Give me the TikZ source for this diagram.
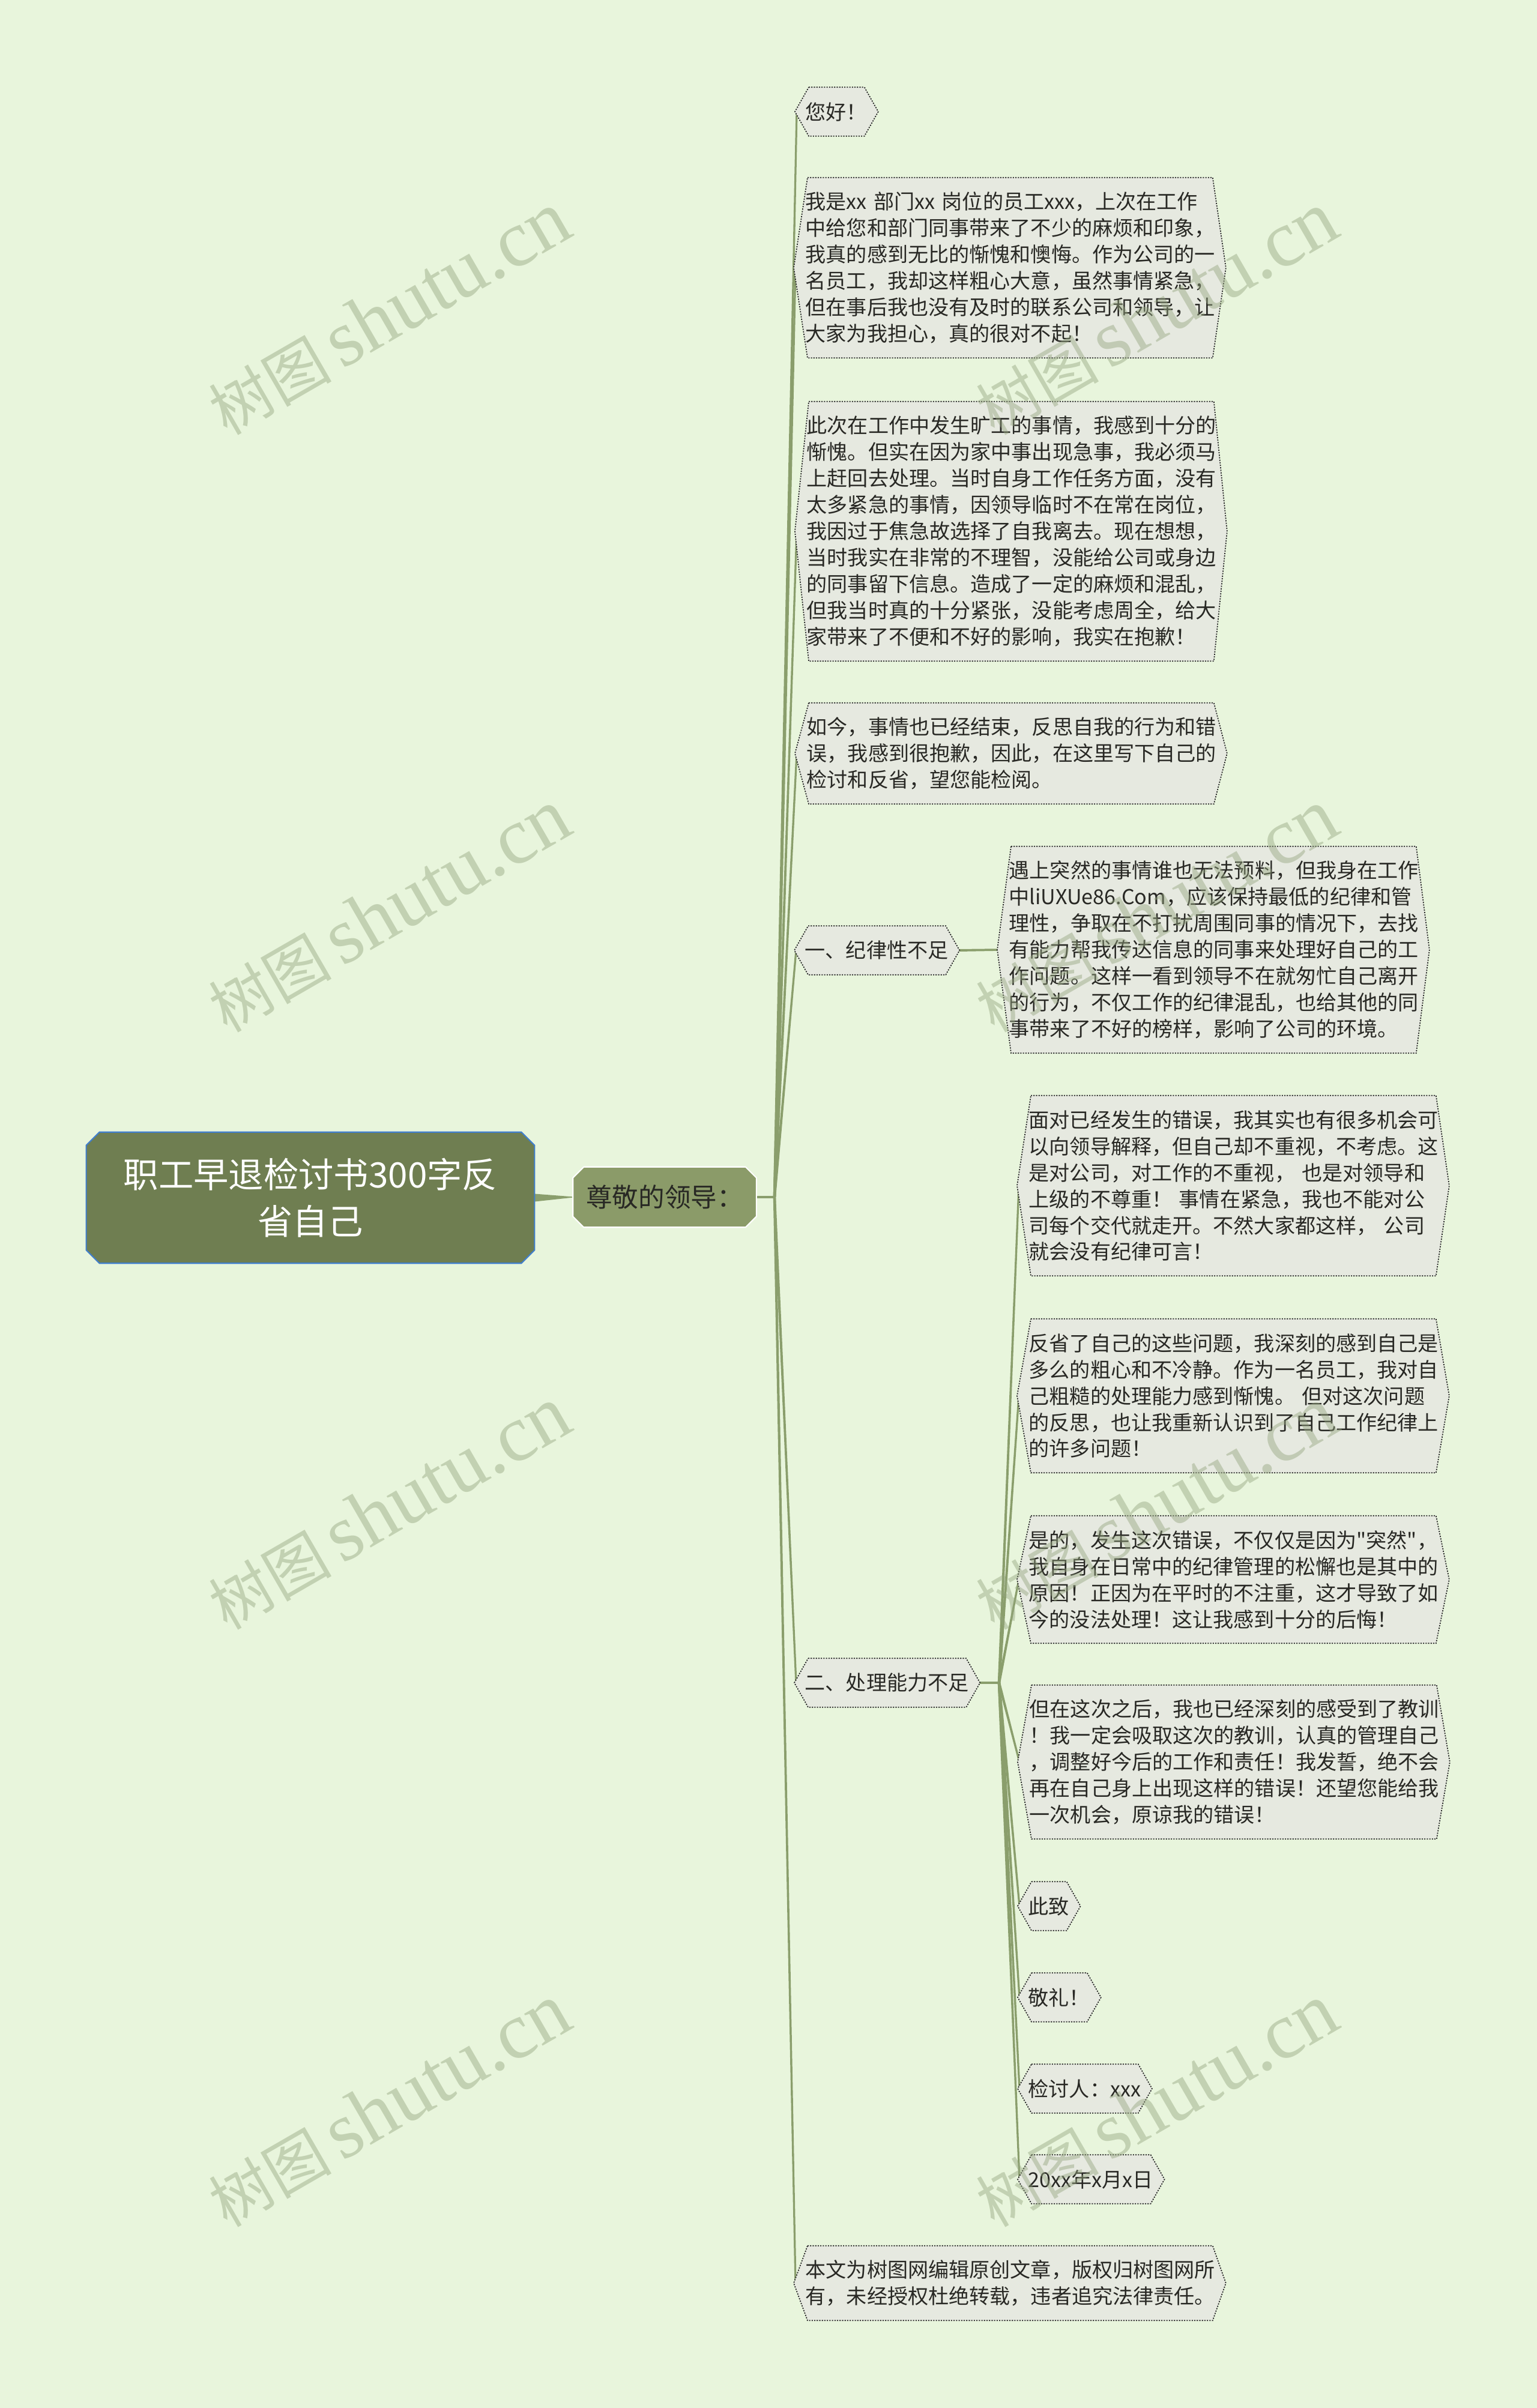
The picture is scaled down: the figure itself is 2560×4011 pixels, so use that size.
\documentclass[tikz,border=0pt]{standalone}
\usepackage{fontspec}
\setmainfont{Noto Sans CJK SC}
\newfontfamily\qfont{Noto Sans CJK SC}[Ligatures=TeXOff]
\newfontfamily\wmcjk{Noto Sans CJK SC}
\newfontfamily\wmlatin{Liberation Serif}
\usetikzlibrary{calc}
\pgfdeclarelayer{bgl}
\pgfdeclarelayer{edges}
\pgfdeclarelayer{shapes}
\pgfdeclarelayer{wm}
\pgfsetlayers{bgl,edges,shapes,main,wm}
\definecolor{bgc}{RGB}{232,245,220}
\definecolor{boxc}{RGB}{230,233,224}
\definecolor{linec}{RGB}{138,158,108}
\definecolor{rootc}{RGB}{111,126,81}
\definecolor{rootb}{RGB}{64,126,204}
\definecolor{subc}{RGB}{139,155,105}
\definecolor{txtc}{RGB}{40,40,36}
\definecolor{dotc}{RGB}{40,40,40}
\definecolor{wmc}{RGB}{149,166,127}
\tikzset{
 txt/.style={inner sep=0pt, font=\fontsize{9.7pt}{12.5pt}\selectfont, text=txtc, align=left, anchor=west},
 widebox/.style={txt, text width=6.9cm},
 hexfill/.style={fill=boxc, draw=dotc, line width=0.5pt, dash pattern=on 0.6pt off 0.6pt},
 wmark/.style={rotate=30, text=wmc, text opacity=0.45, inner sep=0pt},
 stub/.style={draw=linec, line width=0.04cm},
}
\newcommand\hexwide[1]{\path[hexfill] ([xshift=0.04cm]#1.north west) -- ([xshift=-0.13cm]#1.north east) -- ([xshift=0.09cm]#1.east) -- ([xshift=-0.13cm]#1.south east) -- ([xshift=0.04cm]#1.south west) -- ([xshift=-0.19cm]#1.west) -- cycle;}
\newcommand\hexshort[1]{\path[hexfill] ([xshift=0.06cm]#1.north west) -- ([xshift=-0.05cm]#1.north east) -- ([xshift=0.18cm]#1.east) -- ([xshift=-0.05cm]#1.south east) -- ([xshift=0.06cm]#1.south west) -- ([xshift=-0.17cm]#1.west) -- cycle;}
\newcommand\octbox[3]{\path[#3] ([xshift=#2]#1.north west) -- ([xshift=-#2]#1.north east) -- ([yshift=-#2]#1.north east) -- ([yshift=#2]#1.south east) -- ([xshift=-#2]#1.south east) -- ([xshift=#2]#1.south west) -- ([yshift=#2]#1.south west) -- ([yshift=-#2]#1.north west) -- cycle;}
\newcommand\taper[4]{\fill[linec] ($(#1)!#3!90:(#2)$) -- ($(#2)!#4!-90:(#1)$) -- ($(#2)!#4!90:(#1)$) -- ($(#1)!#3!-90:(#2)$) -- cycle;}
\newcommand\wmtext{{\wmcjk\fontsize{29pt}{29pt}\selectfont 树图}\hspace{0.5em}{\wmlatin\fontsize{38pt}{38pt}\selectfont shutu.cn}}
\begin{document}
\begin{tikzpicture}[x=0.01cm,y=-0.01cm]
\useasboundingbox (0,0) rectangle (2560,4011);
\begin{pgfonlayer}{bgl}\fill[bgc] (0,0) rectangle (2560,4011);\end{pgfonlayer}

% root and main branch
\node[inner sep=0pt, minimum width=7.45cm, minimum height=2.17cm, text=white, align=center, font=\fontsize{16.6pt}{22.4pt}\selectfont] (root) at (517,1995) {职工早退检讨书300字反\\省自己};
\node[inner sep=0pt, minimum width=3.04cm, minimum height=0.99cm, text=txtc, font=\fontsize{12.4pt}{14pt}\selectfont] (zj) at (1107,1994) {尊敬的领导：};

% first-level children
\node[txt, minimum height=0.8cm] (nh) at (1341,186) {您好！};
\node[widebox, minimum height=2.99cm] (wo) at (1341,446) {我是xx 部门xx 岗位的员工xxx，上次在工作\\中给您和部门同事带来了不少的麻烦和印象，\\我真的感到无比的惭愧和懊悔。作为公司的一\\名员工，我却这样粗心大意，虽然事情紧急，\\但在事后我也没有及时的联系公司和领导，让\\大家为我担心，真的很对不起！};
\node[widebox, minimum height=4.31cm] (cc) at (1343,885) {此次在工作中发生旷工的事情，我感到十分的\\惭愧。但实在因为家中事出现急事，我必须马\\上赶回去处理。当时自身工作任务方面，没有\\太多紧急的事情，因领导临时不在常在岗位，\\我因过于焦急故选择了自我离去。现在想想，\\当时我实在非常的不理智，没能给公司或身边\\的同事留下信息。造成了一定的麻烦和混乱，\\但我当时真的十分紧张，没能考虑周全，给大\\家带来了不便和不好的影响，我实在抱歉！};
\node[widebox, minimum height=1.67cm] (rj) at (1343,1255) {如今，事情也已经结束，反思自我的行为和错\\误，我感到很抱歉，因此，在这里写下自己的\\检讨和反省，望您能检阅。};
\node[txt, minimum height=0.8cm] (ya) at (1340,1583) {一、纪律性不足};
\node[widebox, minimum height=3.43cm] (ys) at (1680,1582) {遇上突然的事情谁也无法预料，但我身在工作\\中liUXUe86.Com，应该保持最低的纪律和管\\理性，争取在不打扰周围同事的情况下，去找\\有能力帮我传达信息的同事来处理好自己的工\\作问题。这样一看到领导不在就匆忙自己离开\\的行为，不仅工作的纪律混乱，也给其他的同\\事带来了不好的榜样，影响了公司的环境。};
\node[txt, minimum height=0.8cm] (er) at (1340,2803) {二、处理能力不足};
\node[widebox, minimum height=2.99cm] (md) at (1713,1975) {面对已经发生的错误，我其实也有很多机会可\\以向领导解释，但自己却不重视，不考虑。这\\是对公司，对工作的不重视， 也是对领导和\\上级的不尊重！ 事情在紧急，我也不能对公\\司每个交代就走开。不然大家都这样， 公司\\就会没有纪律可言！};
\node[widebox, minimum height=2.55cm] (fx) at (1713,2325) {反省了自己的这些问题，我深刻的感到自己是\\多么的粗心和不冷静。作为一名员工，我对自\\己粗糙的处理能力感到惭愧。 但对这次问题\\的反思，也让我重新认识到了自己工作纪律上\\的许多问题！};
\node[widebox, minimum height=2.11cm] (sd) at (1713,2631) {是的，发生这次错误，不仅仅是因为{\qfont "}突然{\qfont "}，\\我自身在日常中的纪律管理的松懈也是其中的\\原因！正因为在平时的不注重，这才导致了如\\今的没法处理！这让我感到十分的后悔！};
\node[widebox, minimum height=2.55cm] (dz) at (1714,2935) {但在这次之后，我也已经深刻的感受到了教训\\！我一定会吸取这次的教训，认真的管理自己\\，调整好今后的工作和责任！我发誓，绝不会\\再在自己身上出现这样的错误！还望您能给我\\一次机会，原谅我的错误！};
\node[txt, minimum height=0.8cm] (cz) at (1712,3175) {此致};
\node[txt, minimum height=0.8cm] (jl) at (1712,3327) {敬礼！};
\node[txt, minimum height=0.8cm] (jt) at (1712,3479) {检讨人：xxx};
\node[txt, minimum height=0.8cm] (rq) at (1712,3630) {20xx年x月x日};
\node[widebox, minimum height=1.23cm] (bw) at (1341,3803) {本文为树图网编辑原创文章，版权归树图网所\\有，未经授权杜绝转载，违者追究法律责任。};

% shapes
\begin{pgfonlayer}{shapes}
\octbox{root}{0.22cm}{fill=rootc, draw=rootb, line width=0.6pt}
\octbox{zj}{0.18cm}{fill=subc, draw=white, line width=0.6pt}
\foreach \n in {nh,ya,er,cz,jl,jt,rq} {\hexshort{\n}}
\foreach \n in {wo,cc,rj,ys,md,fx,sd,dz,bw} {\hexwide{\n}}
\end{pgfonlayer}

% connector points
\coordinate (J1) at (1290,1994);
\coordinate (J2) at (1664,2803);
\foreach \n in {nh,ya,er,cz,jl,jt,rq} {\coordinate (\n-l) at ([xshift=-0.14cm]\n.west);}
\foreach \n in {wo,cc,rj,ys,md,fx,sd,dz,bw} {\coordinate (\n-l) at ([xshift=-0.16cm]\n.west);}
\coordinate (ya-r) at ([xshift=0.15cm]ya.east);
\coordinate (er-r) at ([xshift=0.15cm]er.east);

\begin{pgfonlayer}{edges}
\taper{root.east}{zj.west}{0.065cm}{0.006cm}
\draw[stub] (zj.east) -- (J1);
\foreach \n in {nh,wo,cc,rj,ya,er,bw} {\taper{J1}{\n-l}{0.022cm}{0.016cm}}
\taper{ya-r}{ys-l}{0.02cm}{0.018cm}
\draw[stub] (er-r) -- (J2);
\foreach \n in {md,fx,sd,dz,cz,jl,jt,rq} {\taper{J2}{\n-l}{0.022cm}{0.016cm}}
\end{pgfonlayer}

% watermarks
\begin{pgfonlayer}{wm}
\foreach \yy in {522,1517,2512,3507} {
\node[wmark] (wmL\yy) at (648,\yy) {\wmtext};
\node[wmark] (wmR\yy) at (1926,\yy) {\wmtext};
}
\end{pgfonlayer}
\end{tikzpicture}
\end{document}
